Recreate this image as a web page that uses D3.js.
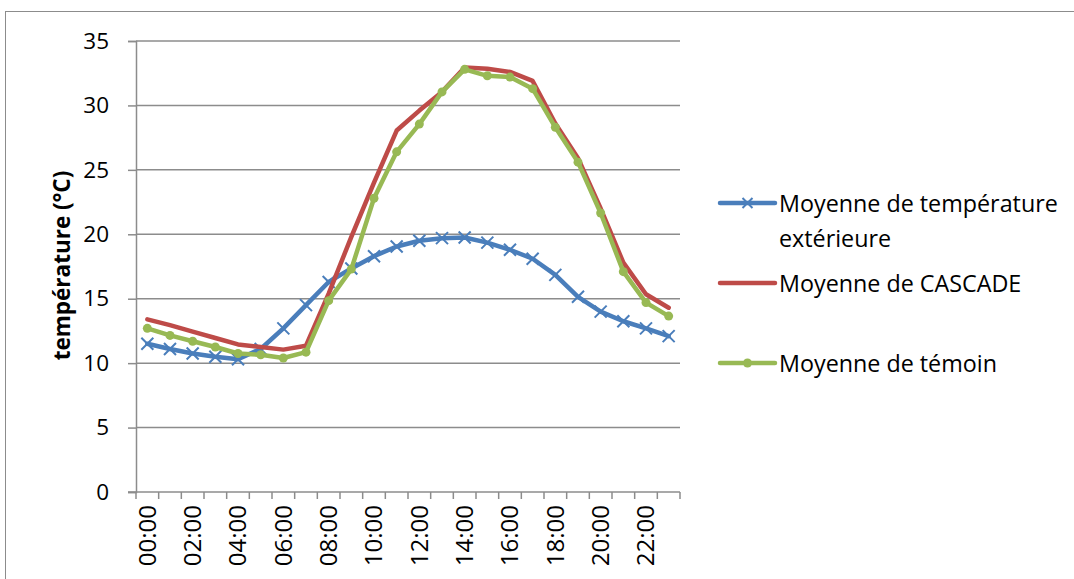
<!DOCTYPE html>
<html>
<head>
<meta charset="utf-8">
<script src="https://cdn.jsdelivr.net/npm/d3@7"></script>
<style>
  html, body { margin: 0; padding: 0; background: #fff; }
  svg { display: block; }
  text { font-family: "Open Sans", "Liberation Sans", sans-serif; fill: #000; }
</style>
</head>
<body>
<svg id="chart" width="1074" height="579"></svg>
<script>
// Hourly categories
const hours = ["00:00","01:00","02:00","03:00","04:00","05:00","06:00","07:00","08:00","09:00","10:00","11:00",
               "12:00","13:00","14:00","15:00","16:00","17:00","18:00","19:00","20:00","21:00","22:00","23:00"];
const hourLabels = ["00:00","02:00","04:00","06:00","08:00","10:00","12:00","14:00","16:00","18:00","20:00","22:00"];
const yTicks = [0, 5, 10, 15, 20, 25, 30, 35];

// Mean temperatures (°C)
const exterieure = [11.5, 11.1, 10.75, 10.5, 10.3, 11.1, 12.7, 14.5, 16.3, 17.35, 18.3, 19.05,
                    19.5, 19.7, 19.75, 19.35, 18.8, 18.1, 16.85, 15.15, 14.0, 13.25, 12.7, 12.1];
const cascade    = [13.4, 12.95, 12.45, 11.95, 11.45, 11.25, 11.05, 11.35, 15.4, 19.8, 24.0, 28.05,
                    29.6, 31.05, 32.95, 32.85, 32.6, 31.9, 28.6, 25.9, 22.0, 17.8, 15.35, 14.3];
const temoin     = [12.7, 12.15, 11.7, 11.25, 10.75, 10.65, 10.4, 10.85, 14.85, 17.3, 22.8, 26.4,
                    28.55, 31.05, 32.8, 32.3, 32.2, 31.3, 28.3, 25.6, 21.65, 17.1, 14.7, 13.65];

const seriesNames = ["Moyenne de température\nextérieure", "Moyenne de CASCADE", "Moyenne de témoin"];
const seriesColors = ["#4a7ebb", "#be4b48", "#98b954"];

const svg = d3.select("#chart");

// outer frame
svg.append("rect")
  .attr("x", 5.5).attr("y", 11.5)
  .attr("width", 1200).attr("height", 700)
  .attr("fill", "none").attr("stroke", "#8c8c8c").attr("stroke-width", 1);

const plotLeft = 136, plotRight = 680, plotTop = 41, plotBottom = 492;

const x = d3.scaleBand().domain(hours).range([plotLeft, plotRight]).paddingInner(0).paddingOuter(0);
const y = d3.scaleLinear().domain([0, 35]).range([plotBottom, plotTop]);
const cx = h => x(h) + x.bandwidth() / 2;

const gridColor = "#8c8c8c";

// horizontal gridlines
svg.append("g").selectAll("line")
  .data(yTicks.filter(t => t > 0))
  .join("line")
  .attr("x1", plotLeft).attr("x2", plotRight)
  .attr("y1", d => y(d)).attr("y2", d => y(d))
  .attr("stroke", gridColor).attr("stroke-width", 1.5);

// y axis
const yAxis = svg.append("g")
  .attr("transform", `translate(${plotLeft},0)`)
  .call(d3.axisLeft(y).tickValues(yTicks).tickSize(8).tickPadding(19));
yAxis.select(".domain").attr("stroke", gridColor).attr("stroke-width", 1.5);
yAxis.selectAll(".tick line").attr("stroke", gridColor).attr("stroke-width", 1.5);
yAxis.selectAll(".tick text")
  .style("font-family", "'Open Sans', sans-serif")
  .style("font-size", "22.5px").attr("fill", "#000");

// x axis: tick marks at category boundaries
const xAxisG = svg.append("g").attr("transform", `translate(0,${plotBottom})`);
xAxisG.append("line")
  .attr("x1", plotLeft - 8).attr("x2", plotRight)
  .attr("stroke", gridColor).attr("stroke-width", 1.5);
xAxisG.selectAll("line.tk")
  .data(hours.concat(["end"]))
  .join("line").attr("class", "tk")
  .attr("x1", (d, i) => i < hours.length ? x(d) : plotRight)
  .attr("x2", (d, i) => i < hours.length ? x(d) : plotRight)
  .attr("y1", 0).attr("y2", 7)
  .attr("stroke", gridColor).attr("stroke-width", 1.5);
xAxisG.selectAll("text")
  .data(hourLabels)
  .join("text")
  .attr("transform", d => `translate(${cx(d)},13) rotate(-90)`)
  .attr("text-anchor", "end")
  .attr("dy", "0.35em")
  .style("font-size", "24px")
  .text(d => d);

// y axis title
svg.append("text")
  .attr("transform", `translate(62,${(plotTop + plotBottom) / 2 - 1}) rotate(-90)`)
  .attr("text-anchor", "middle")
  .attr("dy", "0.35em")
  .style("font-size", "22.5px").style("font-weight", "bold")
  .text("température (°C)");

// lines
const line = d3.line().x((d, i) => cx(hours[i])).y(d => y(d));
const allSeries = [exterieure, cascade, temoin];

// draw order: extérieure, CASCADE, témoin
allSeries.forEach((vals, k) => {
  svg.append("path")
    .datum(vals)
    .attr("d", line)
    .attr("fill", "none")
    .attr("stroke", seriesColors[k])
    .attr("stroke-width", 4.5)
    .attr("stroke-linejoin", "round")
    .attr("stroke-linecap", "round");

  if (k === 0) {
    const s = 6;
    svg.append("g").selectAll("path")
      .data(vals)
      .join("path")
      .attr("d", (d, i) => {
        const px = cx(hours[i]), py = y(d);
        return `M${px - s},${py - s}L${px + s},${py + s}M${px - s},${py + s}L${px + s},${py - s}`;
      })
      .attr("stroke", seriesColors[k]).attr("stroke-width", 2);
  } else if (k === 2) {
    svg.append("g").selectAll("circle")
      .data(vals)
      .join("circle")
      .attr("cx", (d, i) => cx(hours[i]))
      .attr("cy", d => y(d))
      .attr("r", 4.5)
      .attr("fill", seriesColors[k]);
  }
});

// legend
const legendY = [203, 283, 363];
const legend = svg.append("g");
seriesNames.forEach((name, k) => {
  const ly = legendY[k];
  legend.append("line")
    .attr("x1", 720).attr("x2", 775)
    .attr("y1", ly).attr("y2", ly)
    .attr("stroke", seriesColors[k]).attr("stroke-width", 4.5)
    .attr("stroke-linecap", "round");
  if (k === 0) {
    const s = 5, mx = 747.5;
    legend.append("path")
      .attr("d", `M${mx - s},${ly - s}L${mx + s},${ly + s}M${mx - s},${ly + s}L${mx + s},${ly - s}`)
      .attr("stroke", seriesColors[k]).attr("stroke-width", 2);
  } else if (k === 2) {
    legend.append("circle").attr("cx", 747.5).attr("cy", ly).attr("r", 4.5).attr("fill", seriesColors[k]);
  }
  const t = legend.append("text")
    .attr("x", 779).attr("y", ly + 9)
    .style("font-size", "23.3px");
  name.split("\n").forEach((part, j) => {
    t.append("tspan").attr("x", 779).attr("dy", j === 0 ? 0 : 35).text(part);
  });
});
</script>
</body>
</html>
